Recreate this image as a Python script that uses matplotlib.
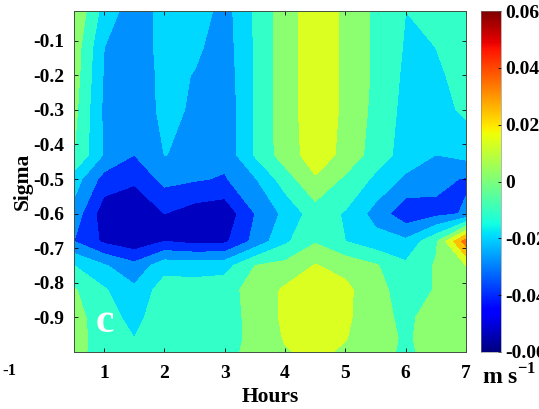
import numpy as np
import matplotlib
matplotlib.use("Agg")
import matplotlib.pyplot as plt

plt.rcParams['font.family'] = ['Liberation Serif', 'DejaVu Serif']
plt.rcParams['font.weight'] = 'bold'
plt.rcParams['mathtext.fontset'] = 'custom'
plt.rcParams['mathtext.rm'] = 'Liberation Serif:bold'

hours = [0.5, 1, 1.5, 2, 2.5, 3, 3.5, 4, 4.5, 5, 5.5, 6, 6.5, 7]
sigma = [-0.014, -0.12, -0.2, -0.3, -0.43, -0.5, -0.6, -0.68, -0.75, -0.82, -0.9, -0.96, -1.0]

row_01 = [.0095, -.014, -.026, -.0165, -.014, -.024, -.009, .006, .015, .0085, -.002, -.010, -.008, -.006]
row_12 = [.006, -.020, -.027, -.016, -.018, -.025, -.009, .006, .015, .0085, -.002, -.011, -.010, -.006]
row_20 = [.005, -.021, -.027, -.017, -.0205, -.026, -.009, .006, .015, .0085, -.002, -.012, -.012, -.006]
row_30 = [.003, -.022, -.028, -.017, -.0215, -.027, -.009, .006, .015, .0085, -.003, -.013, -.014, -.008]
row_43 = [.000, -.021, -.030, -.0199, -.021, -.027, -.009, .005, .0148, .0075, -.005, -.014, -.020, -.017]
row_50 = [-.015, -.034, -.038, -.027, -.029, -.031, -.021, -.005, .009, -.002, -.012, -.022, -.027, -.031]
row_60 = [-.024, -.046, -.049, -.040, -.045, -.047, -.030, -.0175, -.005, -.011, -.024, -.037, -.033, -.029]
row_68 = [-.030, -.042, -.047, -.040, -.043, -.042, -.027, -.012, -.001, -.010, -.016, -.018, -.002, .035]
row_75 = [-.010, -.019, -.027, -.014, -.014, -.014, .000, .003, .0105, .0065, .001, -.008, .001, .010]
row_82 = [.001, -.009, -.018, -.005, -.006, -.004, .004, .0115, .015, .0125, .003, -.004, .0005, .006]
row_90 = [.004, -.006, -.013, -.004, -.005, -.004, .003, .012, .017, .012, .003, -.002, .004, .005]
row_96 = [.005, -.006, -.010, -.005, -.004, -.003, .002, .0108, .015, .0105, .003, -.001, .003, .004]
row_100 = [.0045, -.006, -.007, -.005, -.004, -.002, .002, .0091, .0125, .0083, .002, -.001, .002, .004]

values = np.array([row_01, row_12, row_20, row_30, row_43, row_50, row_60, row_68,
                   row_75, row_82, row_90, row_96, row_100])

levels = np.arange(-0.06, 0.061, 0.01)
band_colors = ['#00008f', '#0000c0', '#0030ff', '#0090ff', '#00d8ff', '#33ffc8',
               '#8cff70', '#dcff22', '#ffc000', '#ff7000', '#ff2000', '#a00000']
cbar_ticks = [-0.06, -0.04, -0.02, 0, 0.02, 0.04, 0.06]
cbar_labels = ['-0.06', '-0.04', '-0.02', '0', '0.02', '0.04', '0.06']
y_ticks = [-0.1, -0.2, -0.3, -0.4, -0.5, -0.6, -0.7, -0.8, -0.9]
y_labels = ['-0.1', '-0.2', '-0.3', '-0.4', '-0.5', '-0.6', '-0.7', '-0.8', '-0.9']

W, H = 539, 409
fig = plt.figure(figsize=(W / 100, H / 100), dpi=100)
ax = fig.add_axes([74 / W, 1 - 352 / H, 392 / W, 341 / H])
ax.contourf(hours, sigma, values, levels=levels, colors=band_colors)
ax.set_xlim(0.5, 7)
ax.set_ylim(-1.0, -0.014)
ax.set_xticks(range(1, 8))
ax.set_yticks(y_ticks)
ax.set_yticklabels(y_labels)
ax.tick_params(direction='in', top=True, right=True, length=3, width=0.6, labelsize=14, pad=7)
ax.tick_params(axis='x', pad=9)
ax.set_xlabel('Hours', fontsize=15.5, fontweight='bold', va='center')
ax.xaxis.set_label_coords(0.5, (352 - 397) / 341)
ax.set_ylabel('Sigma', fontsize=15.5, fontweight='bold', va='center')
ax.yaxis.set_label_coords((23 - 74) / 392, (352 - 181) / 341)
for s in ax.spines.values():
    s.set_linewidth(0.7)
    s.set_color('#405040')

fig.text(105 / W, 1 - 322 / H, 'c', color='white', fontsize=30, ha='center', va='center')

cax = fig.add_axes([481 / W, 1 - 352 / H, 20 / W, 341 / H])
grad = np.linspace(-0.06, 0.06, 256).reshape(-1, 1)
cax.imshow(grad, aspect='auto', origin='lower', cmap='jet', extent=[0, 1, -0.06, 0.06])
cax.set_xticks([])
cax.yaxis.tick_right()
cax.set_yticks(cbar_ticks)
cax.set_yticklabels(cbar_labels)
cax.tick_params(direction='in', length=2, width=0.6, labelsize=14, pad=3)
for s in cax.spines.values():
    s.set_linewidth(0.4)
    s.set_color('#808080')

fig.text(482 / W, 1 - 377 / H, 'm s$^{-1}$', fontsize=17, ha='left', va='center')
fig.text(2 / W, 1 - 371 / H, '-1', fontsize=12, ha='left', va='center')

fig.savefig('out.png', dpi=100)
